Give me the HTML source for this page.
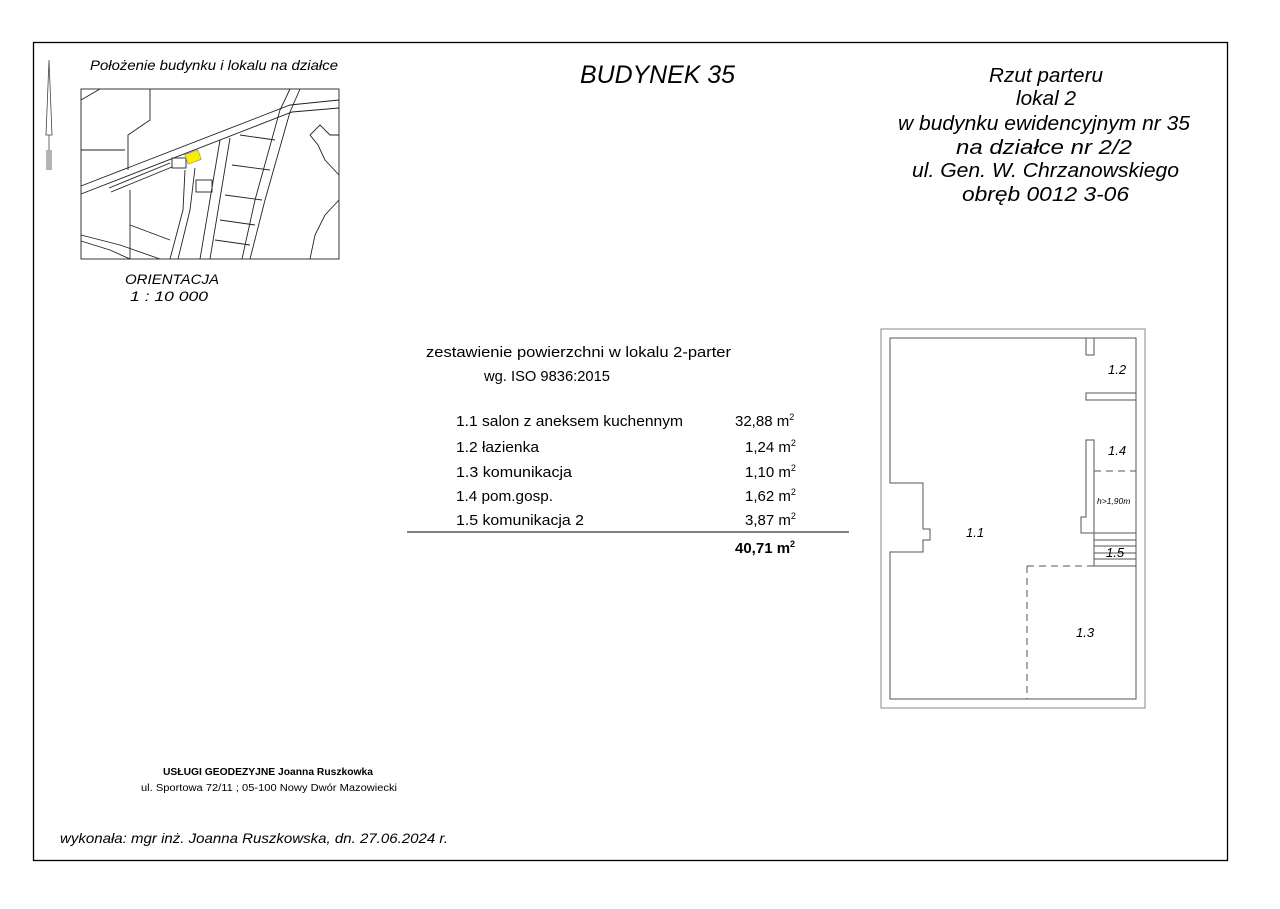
<!DOCTYPE html>
<html><head><meta charset="utf-8"><style>
body{margin:0;background:#fff;}
svg text{font-family:"Liberation Sans",sans-serif;}
</style></head><body>
<svg width="1280" height="904" viewBox="0 0 1280 904" xmlns="http://www.w3.org/2000/svg">
<rect x="0" y="0" width="1280" height="904" fill="#fff"/>
<rect x="33.5" y="42.5" width="1194" height="818" fill="none" stroke="#000" stroke-width="1.3"/>
<g stroke="#444" stroke-width="0.8" fill="none">
<path d="M49 60 L46 135 L52 135 Z"/>
<line x1="49" y1="135" x2="49" y2="170"/><line x1="47" y1="150" x2="47" y2="170"/><line x1="51" y1="150" x2="51" y2="170"/>
</g>
<text x="90" y="70" font-size="14" font-style="italic" textLength="248" lengthAdjust="spacingAndGlyphs">Położenie budynku i lokalu na działce</text>
<g stroke="#222" stroke-width="0.9" fill="none">
<rect x="81" y="89" width="258" height="170"/>
<path d="M81 186 L290 105 L339 100"/><path d="M81 194 L292 112 L339 108"/>
<path d="M290 89 L280 110 L255 200 L242 259"/><path d="M300 89 L290 112 L265 200 L250 259"/>
<path d="M150 89 L150 120 L128 135 L128 170"/><path d="M81 100 L100 89"/><path d="M81 150 L125 150"/>
<path d="M109 188 L170 163"/><path d="M111 192 L172 167"/><rect x="172" y="158" width="14" height="10"/>
<path d="M185 170 L183 210 L170 259"/><path d="M195 168 L190 210 L178 259"/>
<path d="M220 140 L200 259"/><path d="M230 138 L210 259"/>
<path d="M240 135 L275 140"/><path d="M232 165 L270 170"/><path d="M225 195 L262 200"/><path d="M220 220 L255 225"/><path d="M215 240 L250 245"/>
<rect x="196" y="180" width="16" height="12"/>
<path d="M81 235 L120 245 L160 259"/><path d="M81 241 L110 250 L130 259"/>
<path d="M339 175 L325 160 L318 145 L310 135 L320 125 L330 135 L339 135"/>
<path d="M339 200 L325 215 L315 235 L310 259"/>
<path d="M130 190 L130 259"/><path d="M130 225 L170 240"/>
</g>
<rect x="186" y="152" width="14" height="10" fill="#f5f000" stroke="#888" stroke-width="0.6" transform="rotate(-20 193 157)"/>
<text x="125" y="284" font-size="14" font-style="italic" textLength="94" lengthAdjust="spacingAndGlyphs">ORIENTACJA</text>
<text x="130" y="301" font-size="14" font-style="italic" textLength="78" lengthAdjust="spacingAndGlyphs">1 : 10 000</text>
<text x="580" y="83" font-size="25" font-style="italic" textLength="155" lengthAdjust="spacingAndGlyphs">BUDYNEK 35</text>
<g font-size="20" font-style="italic">
<text x="989" y="82" textLength="114" lengthAdjust="spacingAndGlyphs">Rzut parteru</text>
<text x="1016" y="105" textLength="60" lengthAdjust="spacingAndGlyphs">lokal 2</text>
<text x="898" y="130" textLength="292" lengthAdjust="spacingAndGlyphs">w budynku ewidencyjnym nr 35</text>
<text x="956" y="154" textLength="176" lengthAdjust="spacingAndGlyphs">na działce nr 2/2</text>
<text x="912" y="177" textLength="267" lengthAdjust="spacingAndGlyphs">ul. Gen. W. Chrzanowskiego</text>
<text x="962" y="201" textLength="167" lengthAdjust="spacingAndGlyphs">obręb 0012   3-06</text>
</g>
<g font-size="15">
<text x="426" y="357" textLength="305" lengthAdjust="spacingAndGlyphs">zestawienie powierzchni w lokalu 2-parter</text>
<text x="484" y="381" textLength="126" lengthAdjust="spacingAndGlyphs">wg. ISO 9836:2015</text>
<text x="456" y="426" textLength="227" lengthAdjust="spacingAndGlyphs">1.1 salon z aneksem kuchennym</text><text x="735" y="426">32,88 m<tspan font-size="9" dy="-6">2</tspan></text>
<text x="456" y="452" textLength="83" lengthAdjust="spacingAndGlyphs">1.2 łazienka</text><text x="745" y="452">1,24 m<tspan font-size="9" dy="-6">2</tspan></text>
<text x="456" y="477" textLength="116" lengthAdjust="spacingAndGlyphs">1.3 komunikacja</text><text x="745" y="477">1,10 m<tspan font-size="9" dy="-6">2</tspan></text>
<text x="456" y="501" textLength="97" lengthAdjust="spacingAndGlyphs">1.4 pom.gosp.</text><text x="745" y="501">1,62 m<tspan font-size="9" dy="-6">2</tspan></text>
<text x="456" y="525" textLength="128" lengthAdjust="spacingAndGlyphs">1.5 komunikacja 2</text><text x="745" y="525">3,87 m<tspan font-size="9" dy="-6">2</tspan></text>
<text x="735" y="553" font-weight="bold">40,71 m<tspan font-size="9" dy="-6">2</tspan></text>
</g>
<line x1="407" y1="532" x2="849" y2="532" stroke="#000" stroke-width="1"/>
<g fill="none" stroke="#555" stroke-width="1">
<rect x="881" y="329" width="264" height="379" stroke="#888"/>
<path d="M890 338 L1136 338 L1136 699 L890 699 L890 552 L923 552 L923 540 L930 540 L930 529 L923 529 L923 483 L890 483 Z"/>
<rect x="1086" y="338" width="8" height="17"/>
<rect x="1086" y="393" width="50" height="7"/>
<path d="M1086 440 L1094 440 L1094 533 L1081 533 L1081 517 L1086 517 Z"/>
<path d="M1094 533 L1136 533 M1094 533 L1094 566 L1136 566 M1094 540 L1136 540 M1094 546 L1136 546 M1094 553 L1136 553 M1094 559 L1136 559"/>
<path d="M1094 471 L1136 471 M1027 566 L1094 566 M1027 566 L1027 699" stroke-dasharray="7,5"/>
</g>
<g font-size="13" font-style="italic">
<text x="1108" y="374">1.2</text><text x="1108" y="455">1.4</text>
<text x="1097" y="504" font-size="8.5">h&gt;1,90m</text>
<text x="1106" y="557">1.5</text><text x="966" y="537">1.1</text><text x="1076" y="637">1.3</text>
</g>
<text x="163" y="775" font-size="10" font-weight="bold" textLength="210" lengthAdjust="spacingAndGlyphs">USŁUGI GEODEZYJNE  Joanna Ruszkowka</text>
<text x="141" y="791" font-size="10" textLength="256" lengthAdjust="spacingAndGlyphs">ul. Sportowa 72/11 ; 05-100 Nowy Dwór Mazowiecki</text>
<text x="60" y="843" font-size="14" font-style="italic" textLength="388" lengthAdjust="spacingAndGlyphs">wykonała:  mgr inż. Joanna Ruszkowska, dn. 27.06.2024 r.</text>
</svg>
</body></html>
